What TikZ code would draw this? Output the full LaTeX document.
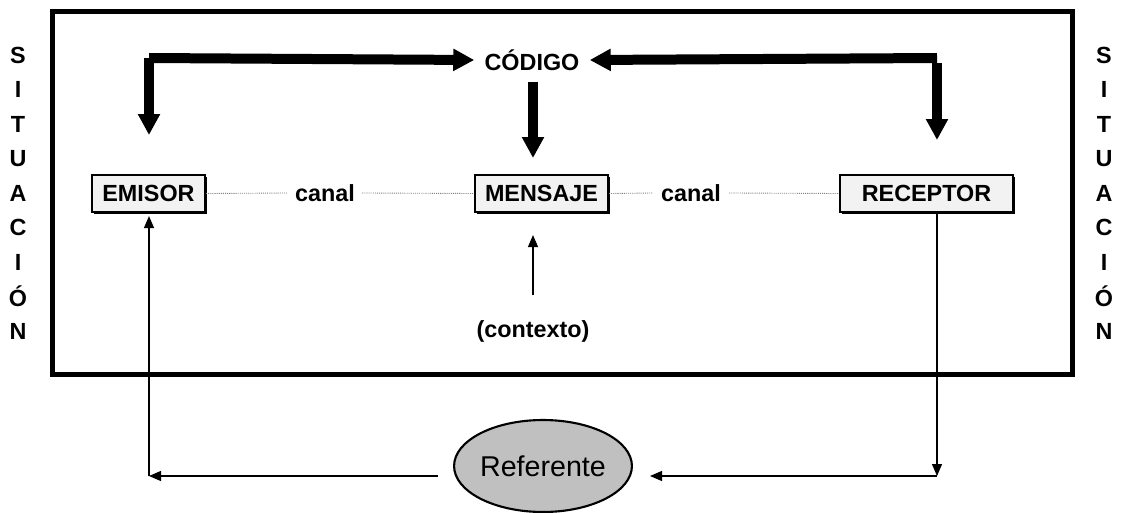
\documentclass[tikz,border=0pt]{standalone}
\usepackage{fontspec}
\setmainfont{Liberation Sans}
\usetikzlibrary{arrows.meta,shapes.geometric}
\begin{document}
\begin{tikzpicture}[x=0.02cm,y=-0.02cm,
  lbl/.style={font=\fontsize{13.3}{15}\selectfont\bfseries, inner sep=0pt},
  box/.style={draw=black, line width=1.2pt, fill=boxgray, minimum height=0.74cm,
    font=\fontsize{13.3}{15}\selectfont\bfseries, inner sep=0pt},
  shadowbox/.style={fill=black, draw=none, minimum height=0.74cm, inner sep=0pt},
  thick arrow/.style={line width=0.2cm, -{Triangle[width=0.42cm,length=0.42cm]}},
  thick bar/.style={line width=0.2cm},
  thin arrow/.style={line width=0.7pt, -{Triangle[width=0.2cm,length=0.24cm]}},
  dotline/.style={draw=gray, line width=0.5pt, dash pattern=on 0.6pt off 0.6pt},
]
\definecolor{boxgray}{HTML}{F2F2F2}
\definecolor{ellgray}{HTML}{C0C0C0}
\useasboundingbox (0,0) rectangle (1125,513);

% frame
\draw[line width=0.1cm] (52,12) rectangle (1072,374);

% SITUACION letters
\foreach \l [count=\i from 0] in {S,I,T,U,A,C,I,Ó,N}{
  \node[lbl] (sl\i) at (18,55+34.5*\i) {\l};
  \node[lbl] (sr\i) at (1104,55+34.5*\i) {\l};
}

% boxes with shadow
\node[shadowbox, minimum width=2.26cm] at (150.5,195.5) {};
\node[box, minimum width=2.26cm] (emisor) at (148.5,193.5) {EMISOR};
\node[shadowbox, minimum width=2.66cm] at (543.5,195.5) {};
\node[box, minimum width=2.66cm] (mensaje) at (541.5,193.5) {MENSAJE};
\node[shadowbox, minimum width=3.46cm] at (928.5,195.5) {};
\node[box, minimum width=3.46cm] (receptor) at (926.5,193.5) {RECEPTOR};

% canal labels
\node[lbl, inner xsep=0.14cm] (canalA) at (325,193) {canal};
\node[lbl, inner xsep=0.16cm] (canalB) at (691,193) {canal};

\draw[dotline] (emisor.east) -- (canalA.west);
\draw[dotline] (canalA.east) -- (mensaje.west);
\draw[dotline] (mensaje.east) -- (canalB.west);
\draw[dotline] (canalB.east) -- (receptor.west);

% codigo
\node[lbl, inner xsep=0.2cm] (codigo) at (532,60) {CÓDIGO};
\coordinate (tl) at (149,58);
\coordinate (tr) at (937,58);
\coordinate (tlv) at (149,135);
\coordinate (trs) at (937,63);
\coordinate (trv) at (937,140);
\coordinate (cm) at (533,82);
\coordinate (cmv) at (533,158);

\draw[thick arrow] (tl) -- (codigo.west);
\draw[thick arrow] (tr) -- (codigo.east);
\draw[thick arrow] (tl) -- (tlv);
\draw[thick arrow] (trs) -- (trv);
\draw[thick arrow] (cm) -- (cmv);

% contexto
\node[lbl] (contexto) at (533,331) {(contexto)};
\coordinate (ctx) at (533,295);
\draw[thin arrow] (ctx) -- (ctx |- mensaje.south) [shorten >=0.44cm];

% referente
\node[ellipse, draw=black, line width=1.2pt, fill=ellgray, minimum width=3.54cm,
  minimum height=1.84cm, inner sep=0pt, font=\fontsize{16.3}{18}\selectfont]
  (referente) at (543,466) {Referente};
\coordinate (bl) at (149,476);
\coordinate (br) at (937,476);
\coordinate (rl) at (438,476);
\coordinate (rr) at (650,476);

\draw[thin arrow, shorten >=0.06cm] (bl) -- (bl |- emisor.south);
\draw[thin arrow] (rl) -- (bl);
\draw[thin arrow] (br |- receptor.south) -- (br);
\draw[thin arrow] (br) -- (rr);
\end{tikzpicture}
\end{document}
